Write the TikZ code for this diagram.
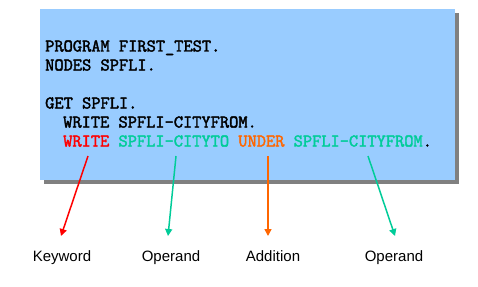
\documentclass[tikz,border=0pt]{standalone}
\usepackage{fontspec}
\setmainfont{Liberation Sans}
\newfontfamily\codefont{Latin Modern Mono}[AutoFakeBold=2.2]
\usetikzlibrary{arrows.meta}
\definecolor{boxblue}{RGB}{153,204,255}
\definecolor{shadowgray}{RGB}{128,128,128}
\definecolor{kwred}{RGB}{255,0,0}
\definecolor{opteal}{RGB}{0,204,153}
\definecolor{addorange}{RGB}{255,102,0}
\tikzset{
  code/.style={anchor=base west, inner sep=0pt, font=\codefont\bfseries\fontsize{17.9}{20}\selectfont},
  lbl/.style={anchor=base, inner sep=0pt, font=\fontsize{15}{18}\selectfont},
  pointer/.style={line width=1.5pt, -{Triangle[length=7pt,width=7pt]}},
}
\begin{document}
\begin{tikzpicture}[x=1pt,y=-1pt]
\useasboundingbox (0,0) rectangle (478,286);
\fill[white] (0,0) rectangle (478,286);
% shadow and box
\fill[shadowgray] (44,13) rectangle (459,184);
\fill[boxblue] (40,9) rectangle (455,180);
% code lines
\node[code] (l1) at (45,51.5) {PROGRAM FIRST\_TEST.};
\node[code] (l2) at (45,70.5) {NODES SPFLI.};
\node[code] (l3) at (45,108.5) {GET SPFLI.};
\node[code] (l4) at (63,127.5) {WRITE SPFLI-CITYFROM.};
\node[code] (l5) at (63,146.5) {\textcolor{kwred}{WRITE} \textcolor{opteal}{SPFLI-CITYTO} \textcolor{addorange}{UNDER} \textcolor{opteal}{SPFLI-CITYFROM}.};
% labels
\node[lbl] (kw) at (62,261) {Keyword};
\node[lbl] (op1) at (171,261) {Operand};
\node[lbl] (add) at (273,261) {Addition};
\node[lbl] (op2) at (394,261) {Operand};
% arrow endpoints
\coordinate (s1) at (88,156);
\coordinate (e1) at (61,236);
\coordinate (s2) at (176,156);
\coordinate (e2) at (168,236);
\coordinate (s3) at (268,156);
\coordinate (e3) at (268,236);
\coordinate (s4) at (368,156);
\coordinate (e4) at (395,236);
\draw[pointer, kwred] (s1) -- (e1);
\draw[pointer, opteal] (s2) -- (e2);
\draw[pointer, addorange] (s3) -- (e3);
\draw[pointer, opteal] (s4) -- (e4);
\end{tikzpicture}
\end{document}
